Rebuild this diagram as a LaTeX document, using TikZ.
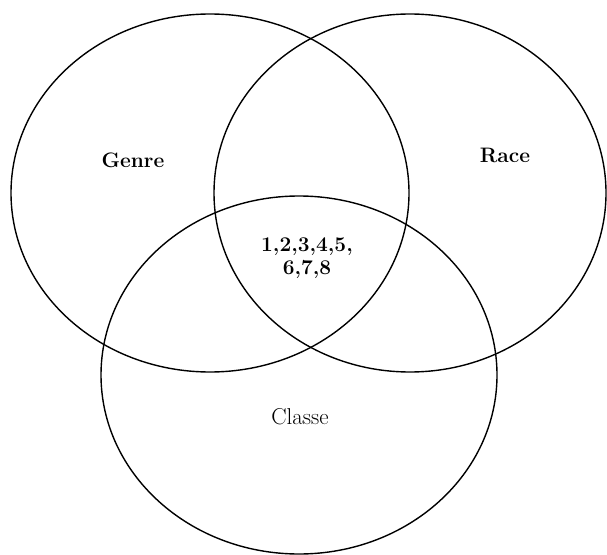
\documentclass[tikz,border=0pt]{standalone}
\begin{document}
\begin{tikzpicture}[x=1bp,y=-1bp,
  setline/.style={draw=black,line width=1.4bp},
  setlabel/.style={font=\fontsize{21}{23}\selectfont\bfseries,align=center},
  plainlabel/.style={font=\fontsize{23}{26}\selectfont}]
\useasboundingbox (0,0) rectangle (607,555);
\draw[setline] (210,193) ellipse [x radius=199, y radius=179];
\draw[setline] (410,193) ellipse [x radius=196, y radius=179];
\draw[setline] (299,375) ellipse [x radius=198, y radius=179];
\node[setlabel] (genre) at (133,160) {Genre};
\node[setlabel] (race) at (505,155) {Race};
\node[setlabel] (inter) at (307,258) {1,2,3,4,5,\\6,7,8};
\node[plainlabel] (classe) at (300,417) {Classe};
\end{tikzpicture}
\end{document}
